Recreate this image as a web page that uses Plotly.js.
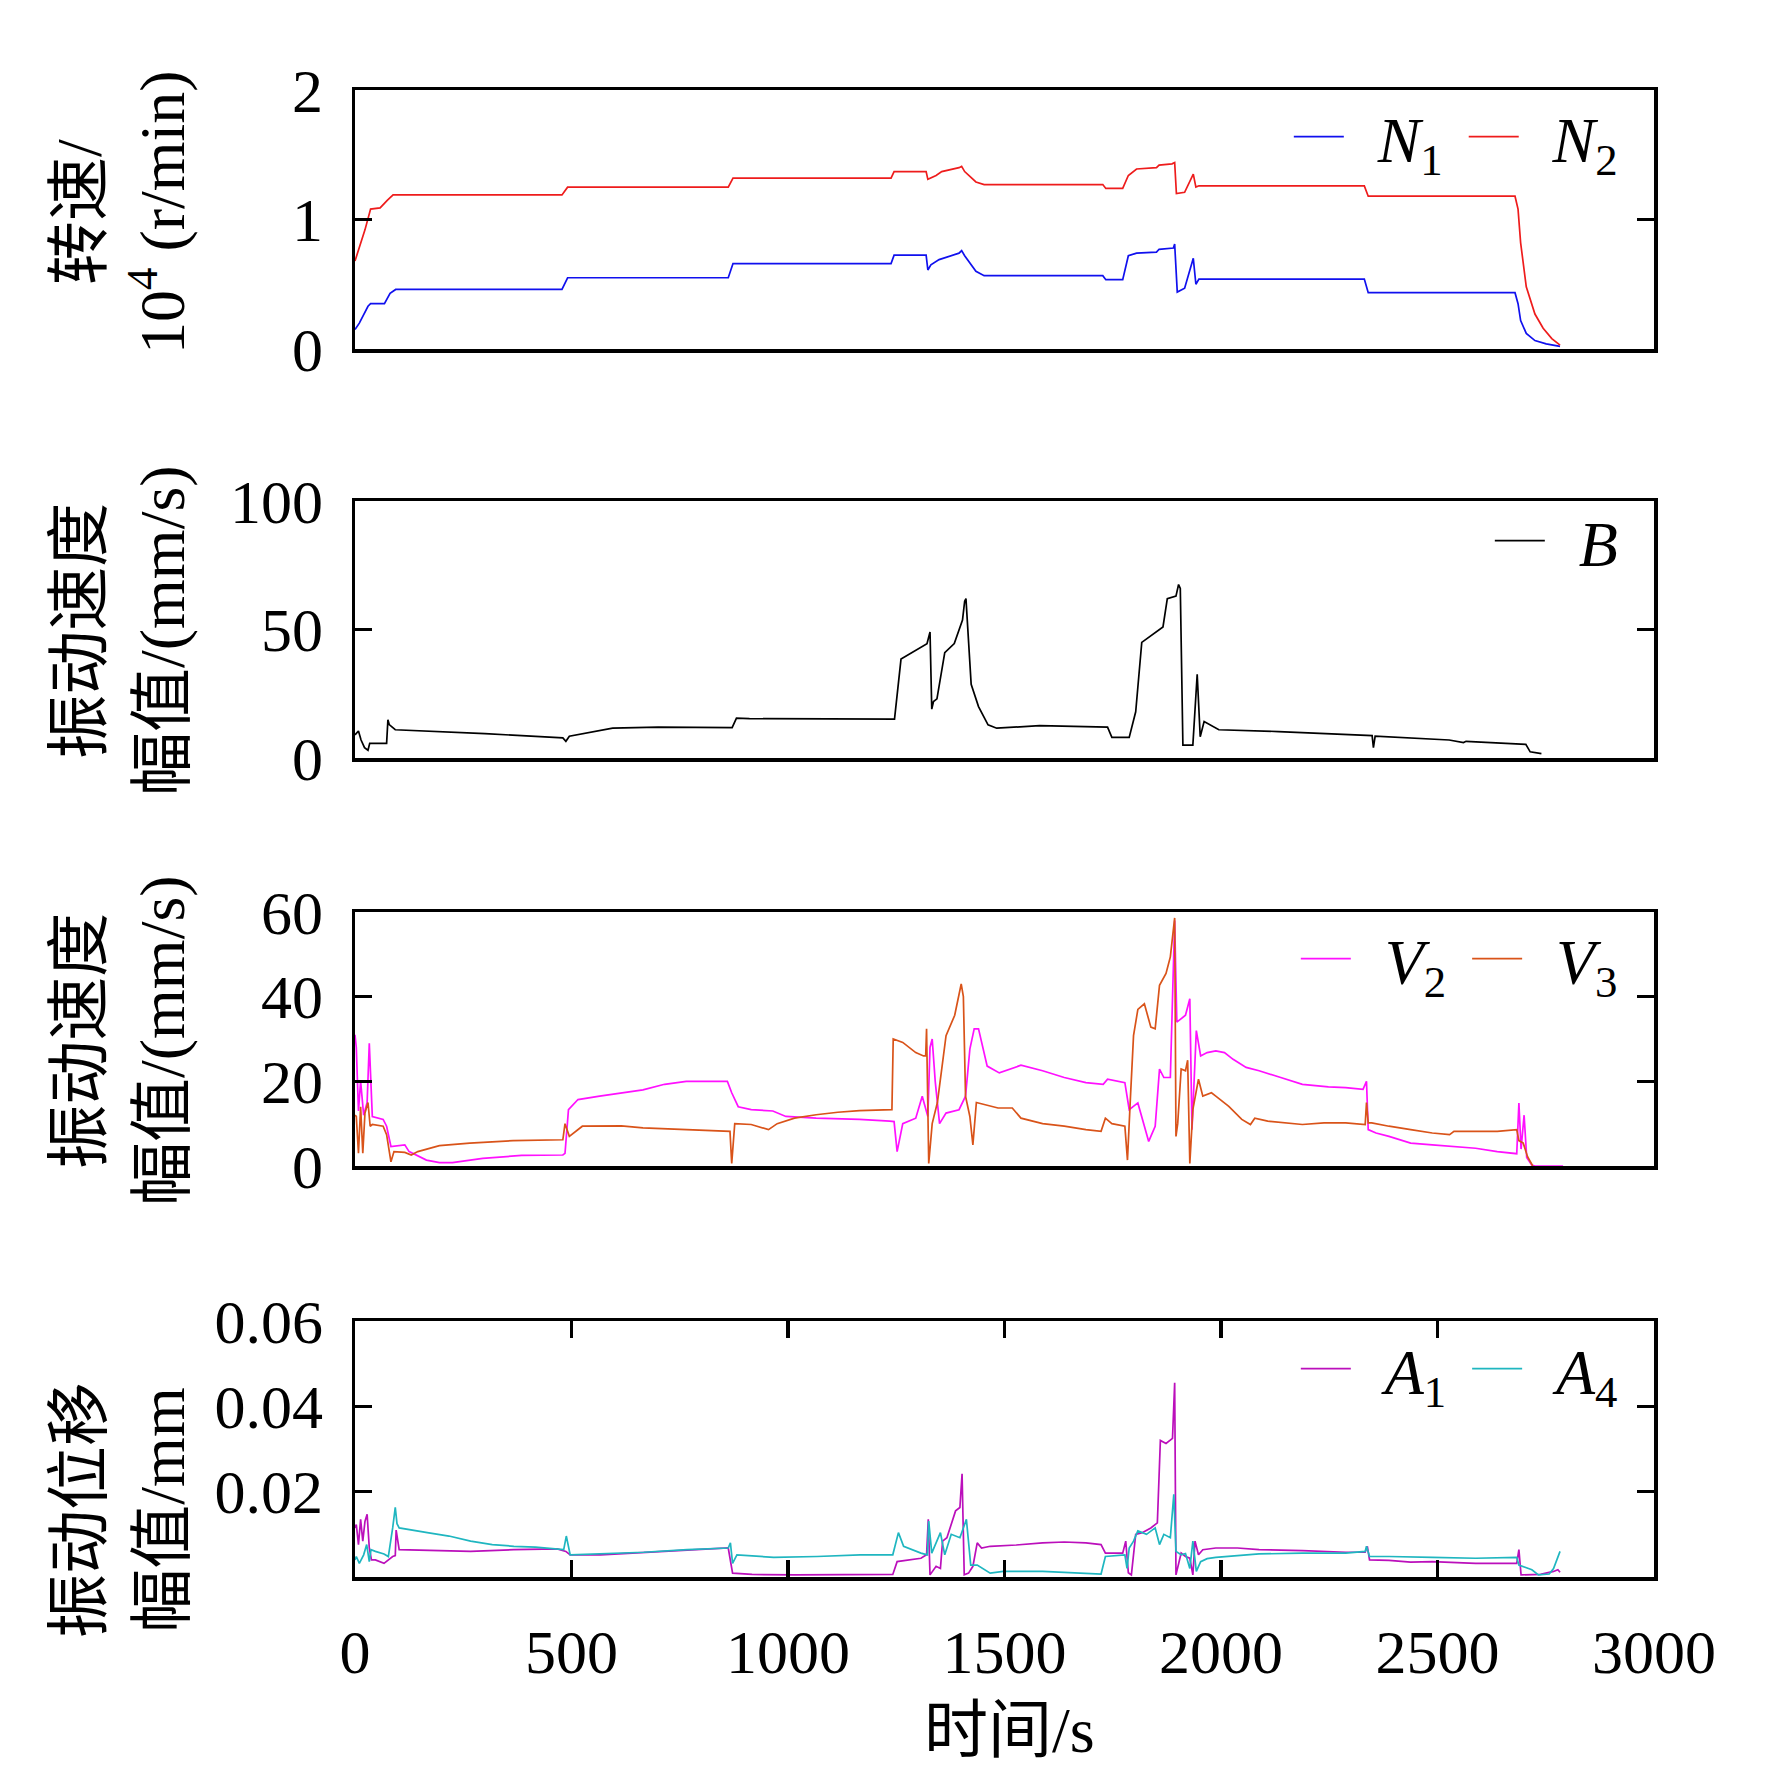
<!DOCTYPE html>
<html>
<head>
<meta charset="utf-8">
<script src="https://cdn.plot.ly/plotly-3.0.1.min.js"></script>
<style>
html,body{margin:0;padding:0;background:#fff;}
#chart{width:1772px;height:1765px;}
</style>
</head>
<body>
<div id="chart"></div>
<script>
// ---------- data (time in s) ----------
const n1Time = [0, 10, 30, 36, 68, 81, 94, 478, 491, 862, 873, 1238, 1245, 1319, 1323, 1330, 1349, 1395, 1401, 1408, 1434, 1453, 1727, 1734, 1773, 1786, 1805, 1851, 1857, 1890, 1893, 1899, 1916, 1936, 1942, 1949, 2331, 2340, 2679, 2686, 2692, 2705, 2725, 2751, 2783];
const n1Speed = [0.15, 0.2, 0.33, 0.35, 0.35, 0.43, 0.46, 0.46, 0.55, 0.55, 0.66, 0.66, 0.725, 0.725, 0.61, 0.65, 0.69, 0.74, 0.76, 0.72, 0.6, 0.566, 0.566, 0.535, 0.535, 0.72, 0.74, 0.748, 0.77, 0.78, 0.81, 0.44, 0.47, 0.70, 0.5, 0.54, 0.54, 0.435, 0.435, 0.35, 0.22, 0.12, 0.065, 0.04, 0.02];

const n2Time = [0, 23, 36, 58, 75, 88, 478, 491, 862, 873, 1238, 1245, 1319, 1323, 1342, 1355, 1395, 1401, 1408, 1434, 1453, 1727, 1734, 1773, 1786, 1805, 1851, 1857, 1887, 1893, 1897, 1916, 1936, 1942, 1949, 2331, 2340, 2679, 2686, 2692, 2705, 2725, 2744, 2764, 2783];
const n2Speed = [0.68, 0.92, 1.08, 1.09, 1.15, 1.19, 1.19, 1.25, 1.25, 1.32, 1.32, 1.37, 1.37, 1.31, 1.34, 1.37, 1.40, 1.41, 1.37, 1.29, 1.27, 1.27, 1.24, 1.24, 1.34, 1.39, 1.40, 1.42, 1.43, 1.44, 1.2, 1.21, 1.35, 1.25, 1.26, 1.26, 1.18, 1.18, 1.08, 0.82, 0.48, 0.27, 0.16, 0.08, 0.03];

const bTime = [0, 8, 14, 22, 30, 34, 73, 76, 79, 93, 300, 480, 487, 495, 595, 700, 871, 881, 911, 1000, 1246, 1261, 1290, 1321, 1328, 1332, 1336, 1344, 1362, 1368, 1384, 1403, 1408, 1411, 1418, 1423, 1440, 1462, 1482, 1581, 1738, 1748, 1788, 1803, 1817, 1866, 1876, 1896, 1902, 1906, 1912, 1935, 1945, 1952, 1961, 1995, 2133, 2349, 2352, 2356, 2527, 2560, 2566, 2704, 2714, 2740];
const bVel = [9, 10.5, 7, 4, 3, 5.7, 5.7, 14.9, 13, 11, 9.5, 7.8, 6.5, 8.5, 11.6, 12, 11.8, 15.5, 15.3, 15.2, 15.1, 38.5, 41.5, 44.5, 49, 19, 22, 23, 41, 42, 44.5, 53.7, 61, 62, 45, 28.7, 20, 12.9, 11.6, 12.6, 12, 8, 8, 18, 45, 51, 62, 63, 67.5, 66, 5, 5, 32.6, 8.3, 14.2, 11, 10.3, 8.7, 4, 8.5, 7, 6, 6.5, 5.3, 2.4, 1.7];

const v2Time = [0, 3, 8, 13, 20, 28, 33, 40, 65, 73, 83, 115, 125, 165, 195, 225, 295, 385, 480, 485, 493, 515, 565, 615, 665, 715, 765, 860, 870, 885, 915, 965, 995, 1065, 1165, 1235, 1245, 1252, 1265, 1295, 1310, 1323, 1328, 1333, 1340, 1350, 1365, 1395, 1410, 1420, 1430, 1440, 1460, 1488, 1538, 1588, 1638, 1688, 1728, 1738, 1778, 1788, 1808, 1833, 1848, 1858, 1868, 1883, 1888, 1893, 1898, 1908, 1918, 1928, 1933, 1943, 1953, 1968, 1988, 2008, 2028, 2058, 2088, 2138, 2188, 2248, 2288, 2328, 2336, 2340, 2358, 2388, 2438, 2488, 2538, 2588, 2638, 2683, 2688, 2693, 2700, 2706, 2718, 2725, 2790];
const v2Vel = [31, 28, 13, 20, 12, 15, 29, 11.7, 11, 9.4, 4.6, 5, 3.4, 1.4, 0.8, 0.8, 1.8, 2.5, 2.6, 3, 13.3, 15.7, 16.5, 17.3, 18, 19.3, 20, 20, 17.3, 14, 13.3, 13, 11.7, 11.3, 11, 10.6, 10.5, 3.4, 10, 11.3, 16.5, 11.7, 28, 30, 20, 10, 12.5, 13.3, 16.5, 27.6, 32.4, 32.4, 23.6, 22, 23.8, 22.5, 20.9, 19.7, 19.3, 20.5, 19.7, 13.3, 14.9, 5.8, 9.4, 22.9, 20.9, 20.9, 40, 58, 34, 34.8, 35.6, 39.5, 8.6, 32, 26, 26.8, 27.2, 26.8, 25.2, 23.3, 22.5, 20.9, 19.3, 18.7, 18.5, 18.1, 20, 8.6, 7.8, 7, 5.4, 5, 4.6, 4.2, 3.4, 2.9, 14.9, 4, 12, 2, 0.2, 0, 0];

const v3Time = [0, 3, 8, 13, 18, 23, 30, 35, 40, 65, 73, 83, 90, 115, 130, 145, 195, 265, 365, 465, 480, 485, 495, 525, 565, 615, 665, 765, 860, 866, 870, 877, 915, 955, 975, 1015, 1065, 1115, 1165, 1235, 1240, 1243, 1265, 1295, 1313, 1318, 1320, 1325, 1333, 1345, 1365, 1385, 1400, 1405, 1410, 1420, 1427, 1435, 1455, 1485, 1518, 1538, 1588, 1638, 1688, 1723, 1733, 1748, 1778, 1784, 1791, 1798, 1808, 1823, 1838, 1848, 1858, 1873, 1883, 1888, 1893, 1896, 1900, 1908, 1918, 1923, 1928, 1935, 1948, 1958, 1978, 1988, 2018, 2048, 2068, 2078, 2108, 2188, 2238, 2288, 2333, 2336, 2340, 2348, 2388, 2438, 2488, 2528, 2538, 2588, 2638, 2683, 2688, 2698, 2708, 2720];
const v3Vel = [12, 11.7, 3, 14, 3, 12.5, 15, 9.4, 9.8, 9.4, 7.4, 1, 3.4, 3.2, 2.6, 3.4, 4.8, 5.4, 6, 6.2, 6.2, 10, 7, 9.4, 9.5, 9.5, 9, 8.6, 8.2, 8.2, 0.6, 10, 9.8, 8.6, 10, 11.3, 12.1, 12.7, 13.1, 13.3, 13.3, 30, 29.2, 26.8, 26, 26, 32.4, 0.6, 10, 15, 30.8, 35.6, 43, 40, 16.5, 11.7, 5, 15, 14.5, 13.7, 13.7, 11.3, 10, 9.4, 8.6, 8.2, 11.3, 10, 9.4, 1.4, 16.5, 30.8, 37, 38.3, 32.8, 32.4, 42.7, 45.5, 49.4, 54.6, 58.6, 7, 10, 22.9, 22.5, 25, 0.6, 13.3, 20.5, 16.5, 17.3, 16.5, 14.1, 11, 9.8, 11.3, 10.6, 9.8, 10.2, 10.2, 9.8, 15, 10.2, 10.2, 9.4, 8.6, 7.8, 7.4, 8.2, 8.2, 8.2, 8.6, 6, 5.4, 2.2, 0];

const a1Time = [0, 3, 8, 13, 18, 23, 28, 33, 38, 47, 67, 87, 93, 95, 102, 167, 267, 367, 467, 487, 497, 567, 667, 767, 862, 872, 917, 1017, 1117, 1242, 1252, 1307, 1320, 1324, 1328, 1342, 1352, 1357, 1367, 1387, 1397, 1402, 1407, 1417, 1427, 1437, 1447, 1467, 1527, 1588, 1638, 1688, 1723, 1733, 1773, 1780, 1786, 1793, 1803, 1818, 1838, 1853, 1860, 1873, 1888, 1893, 1896, 1908, 1918, 1928, 1935, 1940, 1948, 1958, 1988, 2038, 2088, 2188, 2288, 2333, 2338, 2343, 2388, 2438, 2488, 2588, 2683, 2688, 2693, 2718, 2738, 2768, 2778, 2783];
const a1Disp = [0.0115, 0.0123, 0.0076, 0.0135, 0.0084, 0.013, 0.0147, 0.0068, 0.004, 0.004, 0.0032, 0.0048, 0.005, 0.011, 0.0064, 0.0062, 0.006, 0.0064, 0.0066, 0.006, 0.0052, 0.0052, 0.0058, 0.0064, 0.0068, 0.0009, 0.0006, 0.0005, 0.0005, 0.0006, 0.0036, 0.0044, 0.0052, 0.0135, 0.0005, 0.0025, 0.002, 0.0084, 0.0092, 0.0155, 0.0163, 0.0242, 0.0005, 0.0009, 0.0025, 0.008, 0.0068, 0.0072, 0.0075, 0.008, 0.0082, 0.008, 0.0076, 0.0056, 0.0056, 0.0084, 0.001, 0.0005, 0.01, 0.0104, 0.0115, 0.0127, 0.032, 0.0313, 0.0325, 0.0455, 0.0005, 0.0056, 0.0048, 0.0044, 0.0005, 0.0084, 0.0052, 0.0064, 0.0068, 0.0068, 0.0064, 0.0062, 0.0058, 0.0058, 0.0072, 0.004, 0.0039, 0.0035, 0.0036, 0.0032, 0.0032, 0.0064, 0.0005, 0.0006, 0.0006, 0.0013, 0.0017, 0.0011];

const a4Time = [0, 3, 10, 20, 27, 33, 37, 47, 67, 77, 87, 93, 97, 102, 167, 217, 267, 317, 367, 417, 482, 488, 497, 567, 667, 767, 862, 867, 872, 882, 967, 1067, 1167, 1242, 1255, 1267, 1307, 1322, 1325, 1332, 1352, 1362, 1377, 1397, 1412, 1422, 1437, 1467, 1497, 1588, 1688, 1723, 1733, 1768, 1778, 1783, 1788, 1798, 1808, 1828, 1848, 1858, 1868, 1883, 1891, 1896, 1908, 1918, 1928, 1935, 1943, 1953, 1968, 1988, 2038, 2088, 2188, 2288, 2333, 2336, 2343, 2388, 2488, 2588, 2683, 2688, 2718, 2733, 2758, 2768, 2783];
const a4Disp = [0.004, 0.0048, 0.0032, 0.0052, 0.0076, 0.0036, 0.0064, 0.006, 0.0054, 0.0048, 0.0115, 0.0163, 0.0125, 0.0115, 0.0104, 0.0096, 0.0084, 0.0076, 0.0072, 0.007, 0.0064, 0.0096, 0.0052, 0.0054, 0.0058, 0.0064, 0.0068, 0.008, 0.0032, 0.0052, 0.0046, 0.0048, 0.0052, 0.0052, 0.0104, 0.0072, 0.0056, 0.0052, 0.0131, 0.0056, 0.0104, 0.0052, 0.01, 0.0092, 0.0135, 0.0028, 0.0028, 0.0009, 0.0013, 0.0013, 0.0009, 0.0007, 0.0048, 0.005, 0.0052, 0.002, 0.0068, 0.0084, 0.0108, 0.01, 0.0115, 0.0076, 0.01, 0.0092, 0.0194, 0.006, 0.0052, 0.0055, 0.002, 0.0084, 0.0013, 0.0036, 0.0043, 0.0046, 0.005, 0.0054, 0.0056, 0.0056, 0.006, 0.0072, 0.0048, 0.0048, 0.0046, 0.0044, 0.0046, 0.0028, 0.0017, 0.0005, 0.0007, 0.002, 0.006];

// tick labels
const xTicks = [0, 500, 1000, 1500, 2000, 2500, 3000];
const y1Ticks = [0, 1, 2];
const y2Ticks = [0, 50, 100];
const y3Ticks = [0, 20, 40, 60];
const y4Ticks = [0.02, 0.04, 0.06];
const y4TickText = ['0.02', '0.04', '0.06'];

const seriesNames = ['<i>N</i><sub>1</sub>', '<i>N</i><sub>2</sub>', '<i>B</i>', '<i>V</i><sub>2</sub>', '<i>V</i><sub>3</sub>', '<i>A</i><sub>1</sub>', '<i>A</i><sub>4</sub>'];
const yTitles = ['转速/<br>10<sup>4</sup> (r/min)', '振动速度<br>幅值/(mm/s)', '振动速度<br>幅值/(mm/s)', '振动位移<br>幅值/mm'];
const xTitle = '时间/s';

// ---------- chart ----------
const FONT = 'Liberation Serif, Times New Roman, Noto Sans CJK SC, serif';
const LW = 1.7;
const LEAD = '\u00A0\u2009';
const TRAIL = '\u00A0';

function tr(x, y, name, color, xa, ya, leg, first) {
  return {type: 'scatter', mode: 'lines', x: x, y: y,
    name: LEAD + name + (first ? TRAIL : ''),
    xaxis: xa, yaxis: ya, legend: leg,
    line: {color: color, width: LW}};
}

const data = [
  tr(n1Time, n1Speed, seriesNames[0], '#1010ee', 'x', 'y', 'legend', true),
  tr(n2Time, n2Speed, seriesNames[1], '#ee1c1c', 'x', 'y', 'legend', false),
  tr(bTime, bVel, seriesNames[2], '#000000', 'x2', 'y2', 'legend2', false),
  tr(v2Time, v2Vel, seriesNames[3], '#ff10ff', 'x3', 'y3', 'legend3', true),
  tr(v3Time, v3Vel, seriesNames[4], '#d95319', 'x3', 'y3', 'legend3', false),
  tr(a1Time, a1Disp, seriesNames[5], '#bb0fbb', 'x4', 'y4', 'legend4', true),
  tr(a4Time, a4Disp, seriesNames[6], '#1fb6c0', 'x4', 'y4', 'legend4', false)
];

// plot area in pixels
const L = 355, R = 118, T = 90, B = 188, H = 1765, W = 1772;
const plotH = H - T - B, plotW = W - L - R;
function py(pix) { return (H - B - pix) / plotH; }
function px(pix) { return (pix - L) / plotW; }

const panels = [[90, 349], [501, 758], [912, 1166], [1321, 1577]];

function xax(i, show) {
  return {
    domain: [0, 1], range: [0, 3000], anchor: i === 1 ? 'y' : 'y' + i,
    matches: i === 1 ? undefined : 'x',
    showline: true, linecolor: '#000', linewidth: 3.5, mirror: show ? 'ticks' : true,
    ticks: show ? 'inside' : '', ticklen: 17, tickwidth: 3.5, tickcolor: '#000',
    tickvals: xTicks, showticklabels: show, ticklabelstandoff: 18,
    showgrid: false, zeroline: false,
    tickfont: {family: FONT, size: 62, color: '#000'}
  };
}
function yax(i, range, vals, text) {
  const o = {
    domain: [py(panels[i - 1][1]), py(panels[i - 1][0])], range: range,
    anchor: i === 1 ? 'x' : 'x' + i,
    showline: true, linecolor: '#000', linewidth: 3.5, mirror: 'ticks',
    ticks: 'inside', ticklen: 17, tickwidth: 3.5, tickcolor: '#000',
    tickvals: vals, ticklabelstandoff: 16,
    showgrid: false, zeroline: false,
    tickfont: {family: FONT, size: 62, color: '#000'}
  };
  if (text) o.ticktext = text;
  return o;
}

function leg(pixY) {
  return {orientation: 'h', x: 0.976, xanchor: 'right', y: py(pixY), yanchor: 'middle',
    bgcolor: 'rgba(0,0,0,0)', borderwidth: 0, itemwidth: 50,
    font: {family: FONT, size: 64, color: '#000'}, tracegroupgap: 0};
}

const titleCentersY = [212, 630, 1040, 1510];
const annotations = yTitles.map((t, k) => ({
  text: t, textangle: -90, xref: 'paper', yref: 'paper',
  x: px(121), y: py(titleCentersY[k]), xanchor: 'center', yanchor: 'middle',
  showarrow: false, font: {family: FONT, size: 64, color: '#000'}
}));
annotations.push({
  text: xTitle, xref: 'paper', yref: 'paper', x: px(1009), y: py(1730),
  xanchor: 'center', yanchor: 'middle', showarrow: false,
  font: {family: FONT, size: 64, color: '#000'}
});

const layout = {
  width: W, height: H,
  margin: {l: L, r: R, t: T, b: B, pad: 0},
  paper_bgcolor: '#fff', plot_bgcolor: '#fff',
  showlegend: true,
  xaxis: xax(1, false), xaxis2: xax(2, false), xaxis3: xax(3, false), xaxis4: xax(4, true),
  yaxis: yax(1, [0, 2], y1Ticks),
  yaxis2: yax(2, [0, 100], y2Ticks),
  yaxis3: yax(3, [0, 60], y3Ticks),
  yaxis4: yax(4, [0, 0.06], y4Ticks, y4TickText),
  legend: leg(137), legend2: leg(541), legend3: leg(959), legend4: leg(1369),
  annotations: annotations
};

Plotly.newPlot('chart', data, layout, {staticPlot: true, displayModeBar: false});
</script>
</body>
</html>
